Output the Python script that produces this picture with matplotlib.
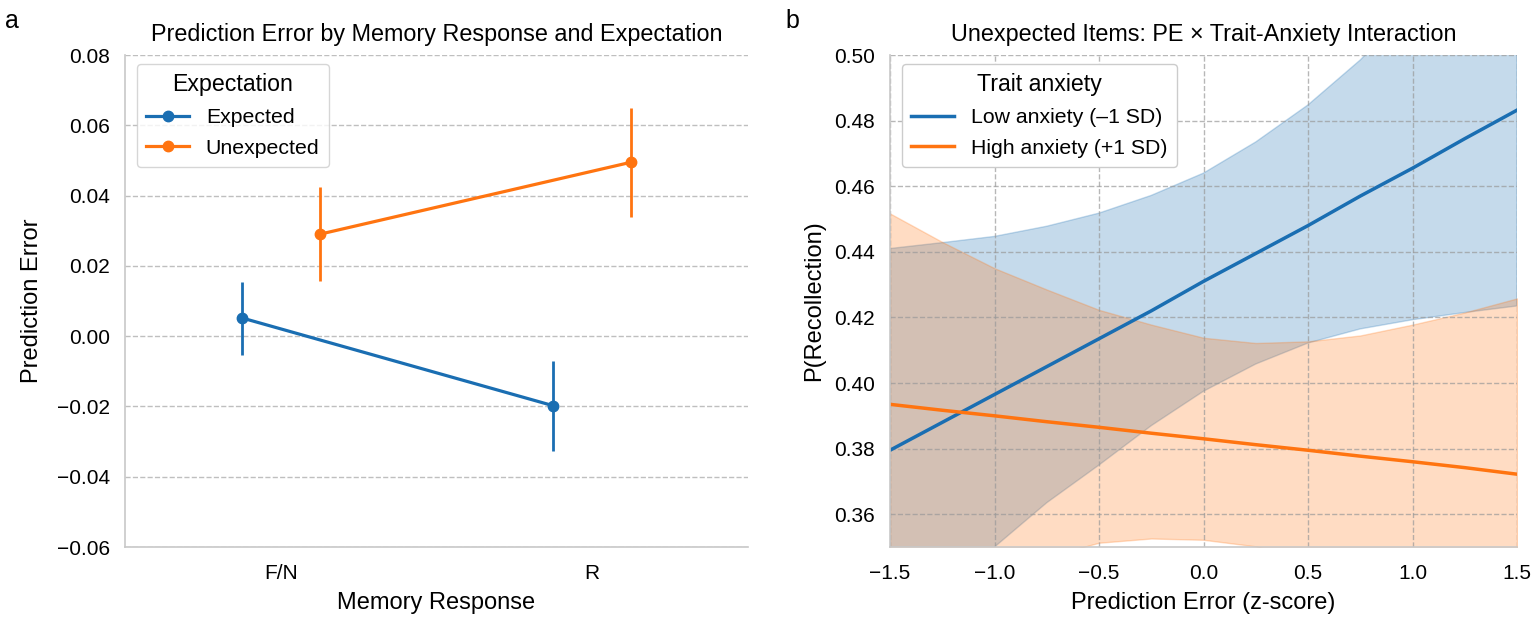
import numpy as np
import matplotlib
matplotlib.use("Agg")
import matplotlib.pyplot as plt
from matplotlib.ticker import FuncFormatter

# ---- panel a data ----
memory_labels = ["F/N", "R"]
expected_mean = [0.0052, -0.0198]
expected_lo = [-0.0055, -0.0326]
expected_hi = [0.0155, -0.0070]
unexpected_mean = [0.0290, 0.0495]
unexpected_lo = [0.0156, 0.0340]
unexpected_hi = [0.0424, 0.0650]

# ---- panel b data ----
pe_grid = [-1.5, -1.25, -1.0, -0.75, -0.5, -0.25, 0.0, 0.25, 0.5, 0.75, 1.0, 1.25, 1.5]
low_line = [0.3795, 0.3880, 0.3965, 0.4050, 0.4135, 0.4220, 0.4310, 0.4395, 0.4480, 0.4570, 0.4655, 0.4745, 0.4832]
low_upper = [0.4410, 0.4428, 0.4447, 0.4478, 0.4518, 0.4572, 0.4640, 0.4735, 0.4848, 0.4985, 0.5150, 0.5340, 0.5550]
low_lower = [0.3200, 0.3350, 0.3500, 0.3635, 0.3750, 0.3870, 0.3975, 0.4058, 0.4122, 0.4165, 0.4193, 0.4215, 0.4235]
high_line = [0.3935, 0.3917, 0.3900, 0.3882, 0.3865, 0.3847, 0.3830, 0.3812, 0.3795, 0.3777, 0.3760, 0.3742, 0.3722]
high_upper = [0.4517, 0.4430, 0.4350, 0.4285, 0.4223, 0.4178, 0.4138, 0.4122, 0.4127, 0.4145, 0.4178, 0.4215, 0.4258]
high_lower = [0.3150, 0.3280, 0.3400, 0.3470, 0.3513, 0.3526, 0.3522, 0.3502, 0.3460, 0.3400, 0.3330, 0.3260, 0.3180]

BLUE = "#1a6eb2"
ORANGE = "#ff7410"
GRID = "#b0b0b0"
SPINE = "#c8c8c8"


def fmt(decimals):
    return FuncFormatter(lambda v, pos: f"{v:.{decimals}f}".replace("-", "\u2212"))


plt.rcParams["font.family"] = ["Liberation Sans", "DejaVu Sans"]
plt.rcParams["xtick.labelsize"] = 15
plt.rcParams["ytick.labelsize"] = 15

fig = plt.figure(figsize=(15.35, 6.19), dpi=100)
ax1 = fig.add_axes([0.0814, 0.1163, 0.4059, 0.7948])
ax2 = fig.add_axes([0.5798, 0.1163, 0.4085, 0.7948])

# ---- panel a ----
x = np.arange(len(memory_labels))
dodge = 0.125
for means, lo, hi, col, lab, off in [
    (expected_mean, expected_lo, expected_hi, BLUE, "Expected", -dodge),
    (unexpected_mean, unexpected_lo, unexpected_hi, ORANGE, "Unexpected", dodge),
]:
    xs = x + off
    ax1.vlines(xs, lo, hi, color=col, lw=2, zorder=3)
    ax1.plot(xs, means, color=col, lw=2.3, marker="o", ms=7.5, label=lab, zorder=4)

ax1.set_xlim(-0.5, 1.5)
ax1.set_ylim(-0.06, 0.08)
ax1.set_xticks(x)
ax1.set_xticklabels(memory_labels)
ax1.set_yticks(np.arange(-0.06, 0.081, 0.02))
ax1.yaxis.set_major_formatter(fmt(2))
ax1.grid(axis="y", ls="--", color=GRID, lw=1, alpha=0.8)
ax1.set_axisbelow(True)
for s in ["top", "right"]:
    ax1.spines[s].set_visible(False)
for s in ["left", "bottom"]:
    ax1.spines[s].set_color(SPINE)
    ax1.spines[s].set_linewidth(1.2)
ax1.tick_params(axis="y", length=0, pad=11)
ax1.tick_params(axis="x", length=0, pad=12)
ax1.set_xlabel("Memory Response", fontsize=17, labelpad=7)
ax1.set_ylabel("Prediction Error", fontsize=17, labelpad=10)
ax1.set_title("Prediction Error by Memory Response and Expectation", fontsize=16.8, pad=10)
leg1 = ax1.legend(title="Expectation", loc="upper left", fontsize=15.3, title_fontsize=16.7,
                  frameon=True, fancybox=True, borderpad=0.45, labelspacing=0.55,
                  handlelength=2.0, borderaxespad=0, bbox_to_anchor=(0.019, 0.982))
leg1.get_frame().set_edgecolor("#cccccc")

# ---- panel b ----
ax2.fill_between(pe_grid, low_lower, low_upper, color=BLUE, alpha=0.25, lw=1)
ax2.fill_between(pe_grid, high_lower, high_upper, color=ORANGE, alpha=0.25, lw=1)
ax2.plot(pe_grid, low_line, color=BLUE, lw=2.5, label="Low anxiety (\u20131 SD)")
ax2.plot(pe_grid, high_line, color=ORANGE, lw=2.5, label="High anxiety (+1 SD)")

ax2.set_xlim(-1.5, 1.5)
ax2.set_ylim(0.35, 0.50)
ax2.set_xticks(np.arange(-1.5, 1.51, 0.5))
ax2.set_yticks(np.arange(0.36, 0.501, 0.02))
ax2.xaxis.set_major_formatter(fmt(1))
ax2.yaxis.set_major_formatter(fmt(2))
ax2.grid(True, ls="--", color="#999999", lw=1, alpha=0.7)
for s in ["top", "right"]:
    ax2.spines[s].set_visible(False)
for s in ["left", "bottom"]:
    ax2.spines[s].set_color(SPINE)
    ax2.spines[s].set_linewidth(1.2)
ax2.tick_params(axis="y", length=0, pad=11)
ax2.tick_params(axis="x", length=0, pad=12)
ax2.set_xlabel("Prediction Error (z-score)", fontsize=17, labelpad=7)
ax2.set_ylabel("P(Recollection)", fontsize=17, labelpad=6)
ax2.set_title("Unexpected Items: PE \u00d7 Trait-Anxiety Interaction", fontsize=16.8, pad=10)
leg2 = ax2.legend(title="Trait anxiety", loc="upper left", fontsize=15.3, title_fontsize=16.7,
                  frameon=True, fancybox=True, borderpad=0.45, labelspacing=0.55,
                  handlelength=2.0, borderaxespad=0, bbox_to_anchor=(0.019, 0.982))
leg2.get_frame().set_edgecolor("#cccccc")
leg2.get_frame().set_alpha(1.0)

fig.text(0.003, 0.955, "a", fontsize=18)
fig.text(0.512, 0.955, "b", fontsize=18)

fig.savefig("out.png", dpi=100, facecolor="white")
